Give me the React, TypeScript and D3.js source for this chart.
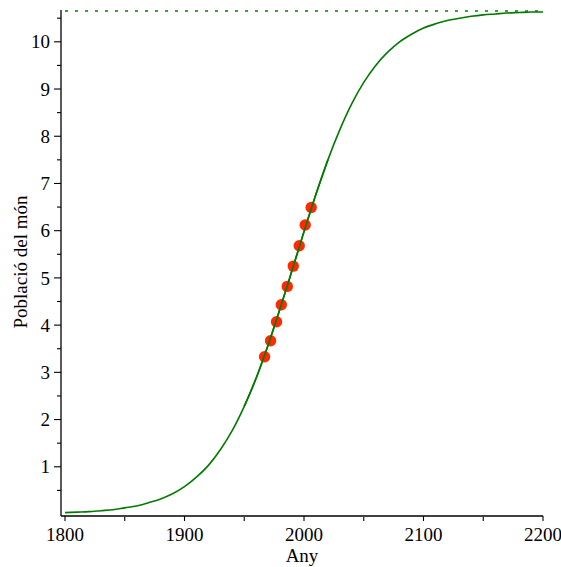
import React, { useRef, useEffect } from "react";
import * as d3 from "d3";

// fitted curve, read every 10 years
const curveYears = d3.range(1800, 2201, 10);
const curveValues = [
  0.03, 0.04, 0.05, 0.07, 0.09, 0.13, 0.17, 0.24, 0.32, 0.43,
  0.58, 0.78, 1.03, 1.36, 1.77, 2.28, 2.88, 3.58, 4.35, 5.16,
  5.98, 6.77, 7.5, 8.14, 8.69, 9.14, 9.5, 9.78, 10.0, 10.16,
  10.29, 10.38, 10.45, 10.5, 10.54, 10.57, 10.59, 10.61, 10.62, 10.63,
  10.63,
];

// observed population
const obsYears = [1967, 1972, 1977, 1981, 1986, 1991, 1996, 2001, 2006];
const obsValues = [3.33, 3.67, 4.07, 4.43, 4.82, 5.25, 5.68, 6.12, 6.49];

const asymptote = 10.65;
const xTicks = [1800, 1900, 2000, 2100, 2200];
const yTicks = [1, 2, 3, 4, 5, 6, 7, 8, 9, 10];

export default function App() {
  const svgRef = useRef<SVGSVGElement>(null);

  useEffect(() => {
    const svg = d3.select(svgRef.current);
    svg.selectAll("*").remove();

    const width = 561;
    const height = 567;
    const font = "'Liberation Serif', 'Times New Roman', serif";

    const x = d3.scaleLinear().domain([1800, 2200]).range([65, 543]);
    const y = d3.scaleLinear().domain([0, 10]).range([514, 41.8]);

    const axisX = 61;
    const axisY = 516;

    const g = svg.append("g");

    // axes lines
    g.append("line")
      .attr("x1", axisX).attr("x2", x(2200))
      .attr("y1", axisY).attr("y2", axisY)
      .attr("stroke", "#000").attr("stroke-width", 1.3);
    g.append("line")
      .attr("x1", axisX).attr("x2", axisX)
      .attr("y1", axisY).attr("y2", 10)
      .attr("stroke", "#000").attr("stroke-width", 1.3);

    // x ticks
    const xMinor = d3.range(1850, 2200, 100);
    g.selectAll("line.xt")
      .data(xTicks)
      .join("line")
      .attr("x1", d => x(d)).attr("x2", d => x(d))
      .attr("y1", axisY).attr("y2", axisY + 5)
      .attr("stroke", "#000").attr("stroke-width", 1.1);
    g.selectAll("line.xm")
      .data(xMinor)
      .join("line")
      .attr("x1", d => x(d)).attr("x2", d => x(d))
      .attr("y1", axisY + 1).attr("y2", axisY + 5)
      .attr("stroke", "#000").attr("stroke-width", 1.1);
    g.selectAll("text.xl")
      .data(xTicks)
      .join("text")
      .attr("x", d => x(d))
      .attr("y", 541)
      .attr("text-anchor", "middle")
      .style("font-family", font)
      .style("font-size", "19px")
      .text(d => d);

    // y ticks
    const yMinor = d3.range(0.5, 10.6, 1);
    g.selectAll("line.yt")
      .data(yTicks)
      .join("line")
      .attr("x1", axisX - 7).attr("x2", axisX)
      .attr("y1", d => y(d)).attr("y2", d => y(d))
      .attr("stroke", "#000").attr("stroke-width", 1.1);
    g.selectAll("line.ym")
      .data(yMinor)
      .join("line")
      .attr("x1", axisX - 4).attr("x2", axisX)
      .attr("y1", d => y(d)).attr("y2", d => y(d))
      .attr("stroke", "#000").attr("stroke-width", 1.1);
    g.selectAll("text.yl")
      .data(yTicks)
      .join("text")
      .attr("x", 50)
      .attr("y", d => y(d))
      .attr("dy", "0.35em")
      .attr("text-anchor", "end")
      .style("font-family", font)
      .style("font-size", "19px")
      .text(d => d);

    // asymptote
    g.append("line")
      .attr("x1", x(1800)).attr("x2", x(2200))
      .attr("y1", y(asymptote)).attr("y2", y(asymptote))
      .attr("stroke", "#008000").attr("stroke-width", 1.5)
      .attr("stroke-dasharray", "3,7");

    // curve
    const pts: [number, number][] = curveYears.map((yr, i) => [yr, curveValues[i]]);
    const line = d3.line<[number, number]>()
      .x(d => x(d[0]))
      .y(d => y(d[1]))
      .curve(d3.curveMonotoneX);
    g.append("path")
      .attr("d", line(pts))
      .attr("fill", "none")
      .attr("stroke", "#007a00")
      .attr("stroke-width", 1.6);

    // observations
    g.selectAll("circle.obs")
      .data(obsYears.map((yr, i) => [yr, obsValues[i]]))
      .join("circle")
      .attr("cx", d => x(d[0]))
      .attr("cy", d => y(d[1]))
      .attr("r", 5.7)
      .attr("fill", "#ff2a00");

    // redraw curve over the dots
    g.append("path")
      .attr("d", line(pts.filter(p => p[0] >= 1950 && p[0] <= 2020)))
      .attr("fill", "none")
      .attr("stroke", "#007a00")
      .attr("stroke-width", 1.6);

    // labels
    g.append("text")
      .attr("x", 302)
      .attr("y", 562)
      .attr("text-anchor", "middle")
      .style("font-family", font)
      .style("font-size", "19px")
      .text("Any");
    g.append("text")
      .attr("transform", "rotate(-90)")
      .attr("x", -262)
      .attr("y", 27)
      .attr("text-anchor", "middle")
      .style("font-family", font)
      .style("font-size", "19px")
      .text("Població del món");

    svg.attr("width", width).attr("height", height);
  }, []);

  return (
    <svg
      ref={svgRef}
      width={561}
      height={567}
      style={{ position: "absolute", left: 0, top: 0, background: "#fff" }}
    />
  );
}
